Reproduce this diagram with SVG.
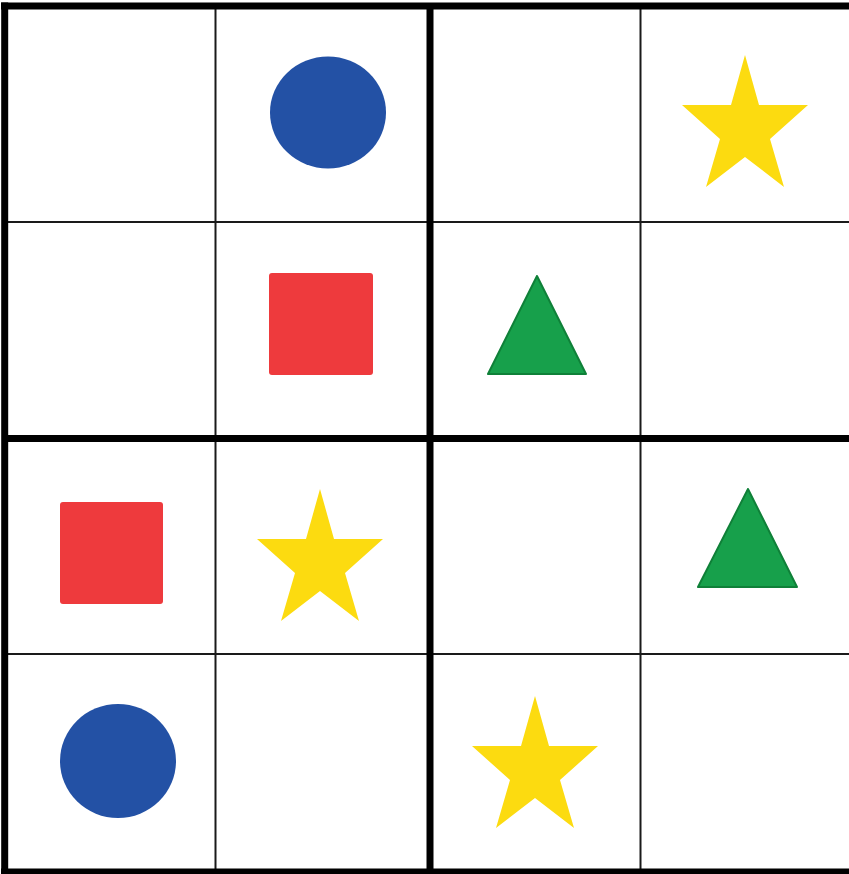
<svg xmlns="http://www.w3.org/2000/svg" width="849" height="874" viewBox="0 0 849 874">
  <style>
    .thin { stroke: #1a1a1a; stroke-width: 2; fill: none; }
    .thick { stroke: #000; stroke-width: 7; fill: none; }
    .circle { fill: #2351A5; }
    .square { fill: #EE3A3D; }
    .star { fill: #FCDB10; }
    .tri { fill: #17A04B; stroke: #0F8038; stroke-width: 2; stroke-linejoin: round; }
  </style>
  <defs>
    <path id="starShape" d="M0,-73 L14,-23 L63,-23 L25,11 L39,59 L0,29 L-39,59 L-25,11 L-63,-23 L-14,-23 Z"/>
  </defs>
  <rect x="0" y="0" width="849" height="874" fill="#fff"/>

  <g id="grid">
    <line class="thin" x1="215.5" y1="6" x2="215.5" y2="871"/>
    <line class="thin" x1="640.5" y1="6" x2="640.5" y2="871"/>
    <line class="thin" x1="5" y1="222" x2="849" y2="222"/>
    <line class="thin" x1="5" y1="654" x2="849" y2="654"/>
    <line class="thick" x1="430" y1="6" x2="430" y2="874"/>
    <line class="thick" x1="5" y1="438.5" x2="849" y2="438.5"/>
    <line class="thick" x1="4.7" y1="2.5" x2="4.7" y2="874"/>
    <line class="thick" x1="1" y1="6" x2="849" y2="6"/>
    <line class="thick" x1="1" y1="872" x2="849" y2="872"/>
  </g>

  <g id="shapes">
    <ellipse id="circle-r1c2" class="circle" cx="328" cy="112.5" rx="58" ry="56"/>
    <use id="star-r1c4" class="star" href="#starShape" x="745" y="128"/>
    <rect id="square-r2c2" class="square" x="269" y="273" width="104" height="102" rx="3"/>
    <polygon id="triangle-r2c3" class="tri" points="537,276 488,374 586,374"/>
    <rect id="square-r3c1" class="square" x="60" y="502" width="103" height="102" rx="3"/>
    <use id="star-r3c2" class="star" href="#starShape" x="320" y="562"/>
    <polygon id="triangle-r3c4" class="tri" points="748,489 698,587 797,587"/>
    <ellipse id="circle-r4c1" class="circle" cx="118" cy="761" rx="58" ry="57"/>
    <use id="star-r4c3" class="star" href="#starShape" x="535" y="769"/>
  </g>
</svg>
